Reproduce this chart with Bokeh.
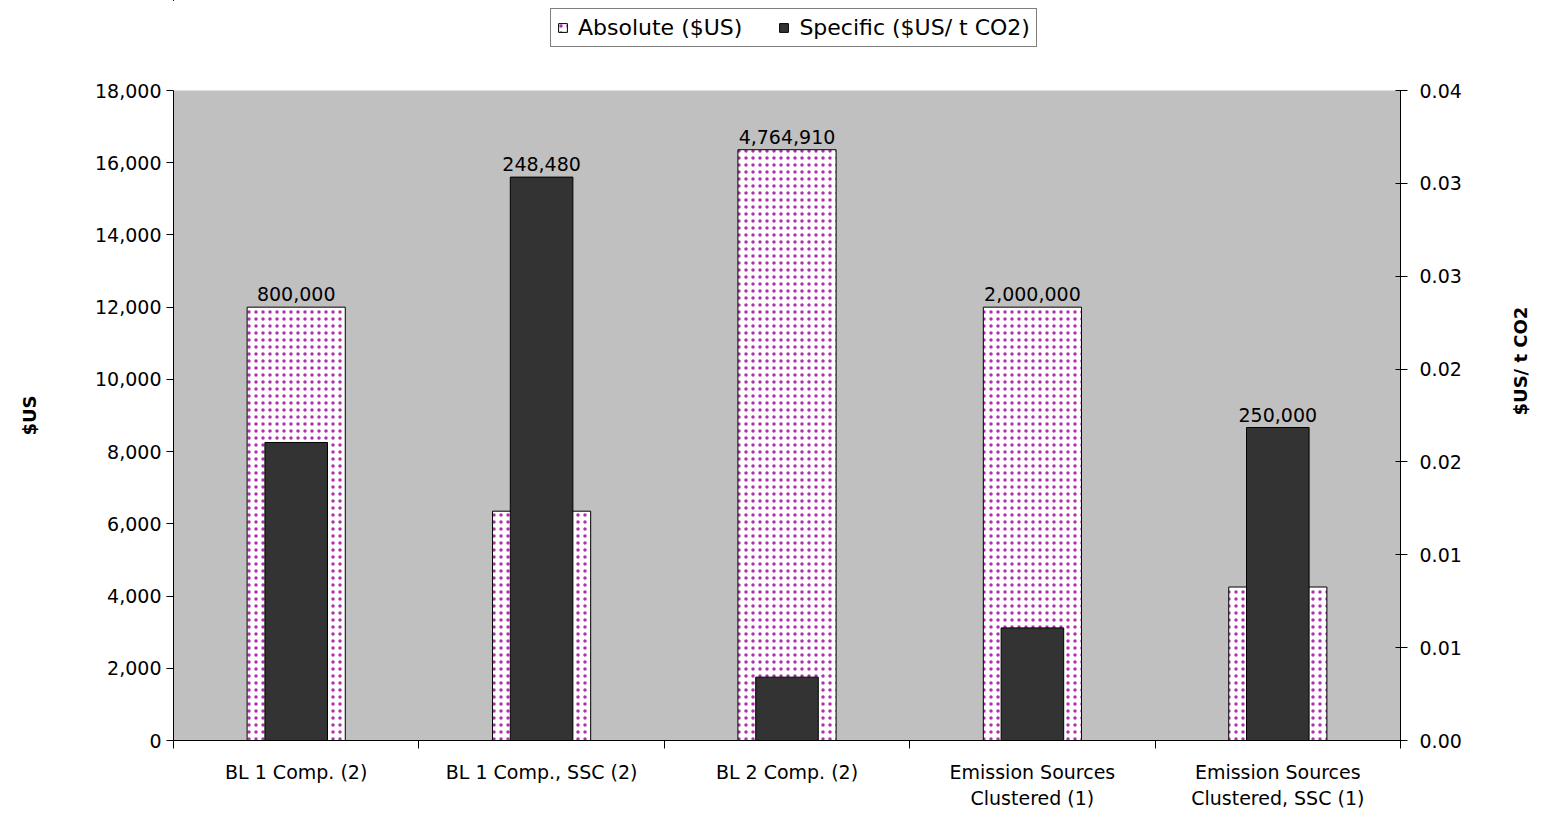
import math
from bokeh.plotting import figure
from bokeh.layouts import column
from bokeh.models import (Range1d, LinearAxis, FixedTicker, NumeralTickFormatter,
                          ColumnDataSource, Legend, LegendItem)
from bokeh.embed import file_html
from bokeh.resources import INLINE
from bokeh.core.properties import value

# ---------------- data ----------------
categories = ["BL 1 Comp. (2)", "BL 1 Comp., SSC (2)", "BL 2 Comp. (2)",
              "Emission Sources\nClustered (1)", "Emission Sources\nClustered, SSC (1)"]
absolute_usd = [12000, 6350, 16360, 12000, 4250]
specific_usd_per_t = [0.01834, 0.03467, 0.0039, 0.00693, 0.01926]
data_labels = ["800,000", "248,480", "4,764,910", "2,000,000", "250,000"]
left_ticks = [0, 2000, 4000, 6000, 8000, 10000, 12000, 14000, 16000, 18000]
left_max = 18000
right_max = 0.04
right_intervals = 7
series_names = ["Absolute ($US)", "Specific ($US/ t CO2)"]

FONT = "DejaVu Sans"
FS = "19px"

ABS_STYLE = dict(fill_color="white", line_color="black", line_width=1,
                 hatch_pattern="dot", hatch_color="#B030B0", hatch_scale=7, hatch_weight=1.1)
SPEC_STYLE = dict(fill_color="#333333", line_color="black", line_width=1)

n = len(categories)
xs = [i + 0.5 for i in range(n)]
label_y = [max(a / left_max, s / right_max) * left_max
           for a, s in zip(absolute_usd, specific_usd_per_t)]
right_ticks = [right_max * i / right_intervals for i in range(right_intervals + 1)]

src = ColumnDataSource(dict(x=xs, absolute=absolute_usd, specific=specific_usd_per_t,
                            ly=label_y, lbl=data_labels))

W = 1544
LEG_H = 56

# ---------------- legend strip (its view lies away from the bars; only the legend shows) ----
lf = figure(width=W, height=LEG_H, x_range=Range1d(1000, 1001), y_range=Range1d(-1e9, -1e9 + 1),
            output_backend="svg", toolbar_location=None,
            x_axis_location=None, y_axis_location=None,
            min_border=0, outline_line_color=None,
            background_fill_color="white", border_fill_color="white")
lf.grid.visible = False
l_abs = lf.vbar(x="x", top="absolute", width=0.4, source=src, **ABS_STYLE)
l_spec = lf.vbar(x="x", top="specific", width=0.255, source=src, **SPEC_STYLE)
legend = Legend(items=[LegendItem(label=series_names[0], renderers=[l_abs]),
                       LegendItem(label=series_names[1], renderers=[l_spec])],
                orientation="horizontal", location=(377, 9),
                border_line_color="black", border_line_width=1,
                background_fill_color="white", background_fill_alpha=1,
                padding=6, spacing=36, glyph_width=11, glyph_height=11,
                label_standoff=10, label_text_font=FONT, label_text_font_size="22px",
                label_text_color="black", margin=0)
lf.add_layout(legend)

# ---------------- main chart ----------------
p = figure(width=W, height=756,
           x_range=Range1d(0, n), y_range=Range1d(0, left_max),
           output_backend="svg", toolbar_location=None,
           min_border_left=173, min_border_right=144,
           min_border_top=90 - LEG_H, min_border_bottom=72,
           background_fill_color="#C0C0C0", border_fill_color="white",
           outline_line_color=None)
p.extra_y_ranges = {"spec": Range1d(0, right_max)}
p.grid.visible = False

p.vbar(x="x", top="absolute", width=0.4, source=src, **ABS_STYLE)
p.vbar(x="x", top="specific", width=0.255, source=src, y_range_name="spec", **SPEC_STYLE)

p.text(x="x", y="ly", text="lbl", source=src, text_align="center", text_baseline="bottom",
       y_offset=-6, text_font=value(FONT), text_font_size=FS, text_color="black")

# x axis
xa = p.xaxis[0]
xa.ticker = FixedTicker(ticks=xs, minor_ticks=list(range(n + 1)))
xa.major_label_overrides = {x: c for x, c in zip(xs, categories)}
xa.major_tick_out = 0
xa.major_tick_in = 0
xa.minor_tick_out = 8
xa.minor_tick_in = 0
xa.minor_tick_line_color = "black"
xa.axis_line_color = "black"
xa.major_label_standoff = 12
xa.major_label_text_font = FONT
xa.major_label_text_font_size = FS
xa.major_label_text_color = "black"
xa.major_label_text_line_height = 1.2

# left axis
ya = p.yaxis[0]
ya.ticker = FixedTicker(ticks=left_ticks)
ya.formatter = NumeralTickFormatter(format="0,0")
ya.major_tick_out = 7
ya.major_tick_in = 0
ya.minor_tick_out = 0
ya.minor_tick_in = 0
ya.axis_line_color = "black"
ya.major_label_text_font = FONT
ya.major_label_text_font_size = FS
ya.major_label_text_color = "black"
ya.major_label_standoff = 5
ya.axis_label = "$US"
ya.axis_label_text_font = FONT
ya.axis_label_text_font_size = "18px"
ya.axis_label_text_font_style = "bold"
ya.axis_label_text_color = "black"
ya.axis_label_standoff = 52

# right axis
ra = LinearAxis(y_range_name="spec", ticker=FixedTicker(ticks=right_ticks),
                formatter=NumeralTickFormatter(format="0.00"))
ra.major_tick_out = 7
ra.major_tick_in = 5
ra.minor_tick_out = 0
ra.minor_tick_in = 0
ra.axis_line_color = "black"
ra.major_label_text_font = FONT
ra.major_label_text_font_size = FS
ra.major_label_text_color = "black"
ra.major_label_standoff = 12
ra.axis_label = "$US/ t CO2"
ra.axis_label_text_font = FONT
ra.axis_label_text_font_size = "18px"
ra.axis_label_text_font_style = "bold"
ra.axis_label_text_color = "black"
ra.axis_label_standoff = 56
if "axis_label_orientation" in ra.properties():
    ra.axis_label_orientation = math.pi / 2
p.add_layout(ra, "right")

layout = column(lf, p, spacing=0)
open("out.html", "w").write(file_html(layout, INLINE))
